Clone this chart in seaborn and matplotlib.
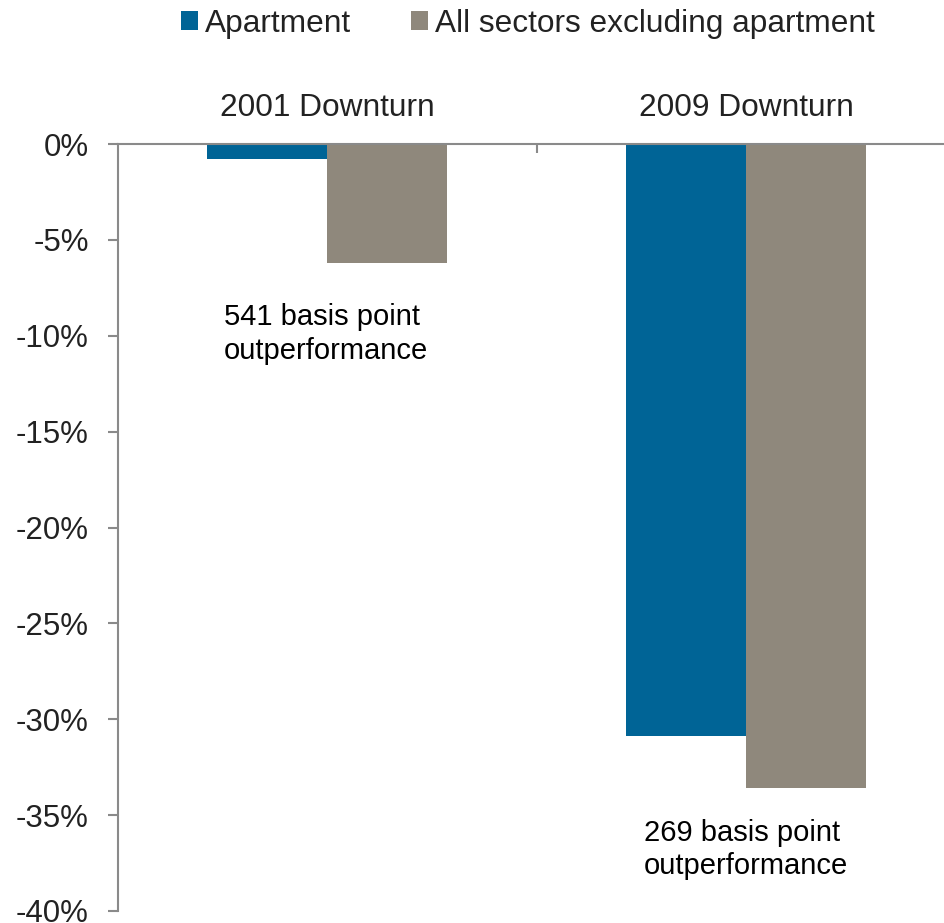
import pandas as pd
import matplotlib.pyplot as plt
import matplotlib.ticker as mticker
import seaborn as sns

# Valeurs (en %)
periodes = ["2001 Downturn", "2009 Downturn"]
secteurs = ["Apartment", "All sectors excluding apartment"]
apartment = [-0.80, -30.87]
hors_apartment = [-6.21, -33.56]
annotations = ["541 basis point\noutperformance", "269 basis point\noutperformance"]
y_ticks = [0, -5, -10, -15, -20, -25, -30, -35, -40]

df = pd.DataFrame({
    "periode": periodes * 2,
    "secteur": [secteurs[0]] * 2 + [secteurs[1]] * 2,
    "valeur": apartment + hors_apartment,
})

sns.set_style("white")
plt.rcParams["font.family"] = ["Liberation Sans", "DejaVu Sans"]
texte = "#222222"
gris_axe = "#8a8a8a"

fig = plt.figure(figsize=(9.45, 9.23), dpi=100)
ax = fig.add_axes([118 / 945, 12 / 923, 837.5 / 945, 767 / 923])

sns.barplot(data=df, x="periode", y="valeur", hue="secteur", hue_order=secteurs,
            palette=["#006496", "#8f887c"], width=0.573, saturation=1,
            linewidth=0, ax=ax)

ax.set_ylim(-40, 0)
ax.set_xlim(-0.5, 1.5)
ax.set_yticks(y_ticks)
ax.yaxis.set_major_formatter(mticker.FuncFormatter(lambda v, p: f"{v:.0f}%" if v != 0 else "0%"))
ax.set_xlabel("")
ax.set_ylabel("")

# axe des catégories en haut (ligne du 0 %)
ax.xaxis.tick_top()
ax.xaxis.set_minor_locator(mticker.FixedLocator([0.5]))
ax.tick_params(axis="x", which="major", length=0, pad=15, labelsize=22.8, labelcolor=texte)
ax.tick_params(axis="x", which="minor", direction="in", length=6.5, width=1.5, color=gris_axe)
ax.tick_params(axis="y", length=7.2, width=1.5, color=gris_axe, pad=13.7,
               labelsize=22.5, labelcolor=texte, left=True)

for cote in ["bottom", "right"]:
    ax.spines[cote].set_visible(False)
for cote in ["top", "left"]:
    ax.spines[cote].set_color(gris_axe)
    ax.spines[cote].set_linewidth(1.5)

# annotations sous les barres
ax.text(-0.248, -8.3, annotations[0], fontsize=21, color="black", va="top", ha="left", linespacing=1.25)
ax.text(0.755, -35.2, annotations[1], fontsize=21, color="black", va="top", ha="left", linespacing=1.25)

sns.move_legend(ax, "center", bbox_to_anchor=(528 / 945, 1 - 24 / 923),
                bbox_transform=fig.transFigure, ncol=2, frameon=False, title=None,
                fontsize=22.8, handlelength=0.54, handleheight=0.54,
                handletextpad=0.22, columnspacing=1.9, borderpad=0, borderaxespad=0)
for t in ax.get_legend().get_texts():
    t.set_color(texte)

fig.savefig("out.png", dpi=100)
